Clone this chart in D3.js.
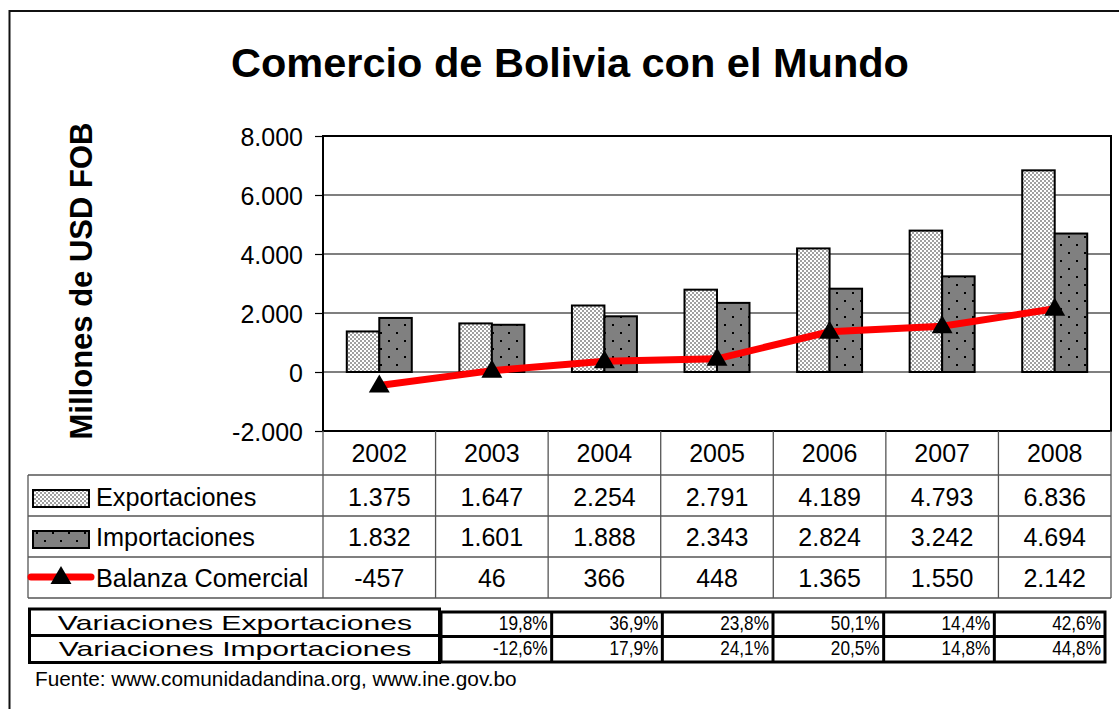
<!DOCTYPE html>
<html><head><meta charset="utf-8">
<script src="https://cdn.jsdelivr.net/npm/d3@7"></script>
<style>
html,body{margin:0;padding:0;background:#fff;}
svg{display:block;font-family:"Liberation Sans",Arial,sans-serif;}
</style></head>
<body>
<svg id="chart" width="1119" height="709"></svg>
<script>
const years = ["2002","2003","2004","2005","2006","2007","2008"];
const exportaciones = [1375,1647,2254,2791,4189,4793,6836];
const importaciones = [1832,1601,1888,2343,2824,3242,4694];
const balanza = [-457,46,366,448,1365,1550,2142];
const varExport = ["19,8%","36,9%","23,8%","50,1%","14,4%","42,6%"];
const varImport = ["-12,6%","17,9%","24,1%","20,5%","14,8%","44,8%"];
const yTicks = [-2000,0,2000,4000,6000,8000];
const seriesNames = ["Exportaciones","Importaciones","Balanza Comercial"];
const varLabels = ["Variaciones Exportaciones","Variaciones Importaciones"];
const titleText = "Comercio de Bolivia con el Mundo";
const yTitle = "Millones de USD FOB";
const sourceText = "Fuente: www.comunidadandina.org, www.ine.gov.bo";

const svg = d3.select("#chart");
const defs = svg.append("defs");
// checker pattern
const pc = defs.append("pattern").attr("id","checker").attr("patternUnits","userSpaceOnUse").attr("width",4).attr("height",4);
pc.append("rect").attr("width",4).attr("height",4).attr("fill","#fff");
pc.append("rect").attr("width",2).attr("height",2).attr("fill","#a0a0a0");
pc.append("rect").attr("x",2).attr("y",2).attr("width",2).attr("height",2).attr("fill","#a0a0a0");
// dotted pattern
const pd = defs.append("pattern").attr("id","dots").attr("patternUnits","userSpaceOnUse").attr("width",16).attr("height",16);
pd.append("rect").attr("width",16).attr("height",16).attr("fill","#808080");
pd.append("rect").attr("x",4).attr("y",4).attr("width",2).attr("height",2).attr("fill","#000");
pd.append("rect").attr("x",12).attr("y",12).attr("width",2).attr("height",2).attr("fill","#000");

const fmt = v => d3.format(",")(v).replace(/,/g,".").replace(/\u2212/g,"-");

// outer frame
svg.append("rect").attr("x",9.5).attr("y",11).attr("width",1200).attr("height",800)
  .attr("fill","none").attr("stroke","#111").attr("stroke-width",2);

// title
svg.append("text").attr("x",570).attr("y",77).attr("text-anchor","middle")
  .attr("font-size",41.5).attr("font-weight","bold").text(titleText);

const L = 323, R = 1111, T = 136, B = 431;
const x = d3.scaleBand().domain(years).range([L,R]).padding(0);
const y = d3.scaleLinear().domain([-2000,8000]).range([B,T]);
const x1 = d3.scaleBand().domain(["e","i"]).range([0,x.bandwidth()]).paddingInner(0).paddingOuter(0.732);

// gridlines
svg.append("g").selectAll("line").data(yTicks).join("line")
  .attr("x1",L).attr("x2",R).attr("y1",d=>y(d)).attr("y2",d=>y(d))
  .attr("stroke","#000").attr("stroke-width",1.2);

// y axis
const yAxis = d3.axisLeft(y).tickValues(yTicks).tickSize(8).tickPadding(12).tickFormat(fmt);
const ga = svg.append("g").attr("transform",`translate(${L},0)`).call(yAxis);
ga.select(".domain").remove();
ga.selectAll(".tick line").attr("stroke","#000").attr("stroke-width",1.2);
ga.selectAll(".tick text").attr("font-size",25).attr("fill","#000")
  .attr("font-family","Liberation Sans, Arial, sans-serif").attr("dy","0.36em");

// y title
svg.append("text").attr("transform",`translate(92,281) rotate(-90)`).attr("text-anchor","middle")
  .attr("font-size",31).attr("font-weight","bold").text(yTitle);

// bars
const gb = svg.append("g");
years.forEach((yr,i)=>{
  [["e",exportaciones[i],"url(#checker)"],["i",importaciones[i],"url(#dots)"]].forEach(([k,v,f])=>{
    gb.append("rect").attr("x",x(yr)+x1(k)).attr("width",x1.bandwidth())
      .attr("y",y(Math.max(0,v))).attr("height",Math.abs(y(v)-y(0)))
      .attr("fill",f).attr("stroke","#000").attr("stroke-width",2);
  });
});

// line
const cx = d => x(d)+x.bandwidth()/2;
svg.append("path").datum(years.map((yr,i)=>[cx(yr),y(balanza[i])]))
  .attr("d",d3.line()).attr("fill","none").attr("stroke","#ff0000").attr("stroke-width",7);
const tri = d3.symbol().type(d3.symbolTriangle).size(190);
svg.append("g").selectAll("path").data(years).join("path")
  .attr("d",tri).attr("transform",(d,i)=>`translate(${cx(d)},${y(balanza[i])+1})`).attr("fill","#000");

// plot border
svg.append("rect").attr("x",L).attr("y",T).attr("width",R-L).attr("height",B-T)
  .attr("fill","none").attr("stroke","#000").attr("stroke-width",2);

// data table
const tg = svg.append("g");
const tc = "#555";
tg.append("line").attr("x1",L).attr("x2",R).attr("y1",B).attr("y2",B).attr("stroke","#000").attr("stroke-width",2);
[475,516,557,598].forEach(yy=>{
  tg.append("line").attr("x1",28).attr("x2",R).attr("y1",yy).attr("y2",yy).attr("stroke",tc).attr("stroke-width",1.3);
});
years.forEach(yr=>{
  tg.append("line").attr("x1",x(yr)).attr("x2",x(yr)).attr("y1",B).attr("y2",598).attr("stroke",tc).attr("stroke-width",1.3);
});
tg.append("line").attr("x1",R).attr("x2",R).attr("y1",B).attr("y2",598).attr("stroke",tc).attr("stroke-width",1.3);
tg.append("line").attr("x1",28).attr("x2",28).attr("y1",475).attr("y2",598).attr("stroke",tc).attr("stroke-width",1.3);

tg.selectAll("text.yr").data(years).join("text").attr("class","yr")
  .attr("x",d=>cx(d)).attr("y",462).attr("text-anchor","middle").attr("font-size",25).text(d=>d);
const rows = [exportaciones,importaciones,balanza];
const baselines = [506,546,587];
rows.forEach((arr,r)=>{
  tg.selectAll(null).data(arr).join("text")
    .attr("x",(d,i)=>cx(years[i])).attr("y",baselines[r]).attr("text-anchor","middle")
    .attr("font-size",25).text(d=>fmt(d));
  tg.append("text").attr("x",96).attr("y",baselines[r]).attr("font-size",25.3).text(seriesNames[r]);
});
// legend keys
tg.append("rect").attr("x",33).attr("y",490).attr("width",56).attr("height",17)
  .attr("fill","url(#checker)").attr("stroke","#000").attr("stroke-width",2);
tg.append("rect").attr("x",33).attr("y",531).attr("width",56).attr("height",17)
  .attr("fill","url(#dots)").attr("stroke","#000").attr("stroke-width",2);
tg.append("line").attr("x1",31).attr("x2",91).attr("y1",577).attr("y2",577)
  .attr("stroke","#ff0000").attr("stroke-width",7).attr("stroke-linecap","round");
tg.append("path").attr("d",tri).attr("transform","translate(61,578)").attr("fill","#000");

// variations table
const vg = svg.append("g");
vg.append("rect").attr("x",29.5).attr("y",609).attr("width",410).attr("height",53.5)
  .attr("fill","none").attr("stroke","#000").attr("stroke-width",3);
vg.append("line").attr("x1",29.5).attr("x2",439.5).attr("y1",635.5).attr("y2",635.5).attr("stroke","#000").attr("stroke-width",3);
const vx = d3.scaleBand().domain(years.slice(1)).range([441,1105]);
vg.append("rect").attr("x",441).attr("y",612).attr("width",1105-441).attr("height",50)
  .attr("fill","none").attr("stroke","#000").attr("stroke-width",3);
vg.append("line").attr("x1",441).attr("x2",1105).attr("y1",636.5).attr("y2",636.5).attr("stroke","#000").attr("stroke-width",3);
years.slice(2).forEach(yr=>{
  vg.append("line").attr("x1",vx(yr)).attr("x2",vx(yr)).attr("y1",612).attr("y2",662).attr("stroke","#000").attr("stroke-width",3);
});
varLabels.forEach((t,i)=>{
  const te = vg.append("text").attr("x",235).attr("y",[630,656][i]).attr("text-anchor","middle")
    .attr("font-size",21).text(t);
  const w = te.node().getComputedTextLength();
  te.attr("textLength",357*(w/249)).attr("lengthAdjust","spacingAndGlyphs");
});
[varExport,varImport].forEach((arr,r)=>{
  arr.forEach((t,i)=>{
    const yr = years[i+1];
    const te = vg.append("text").attr("x",vx(yr)+vx.bandwidth()-4).attr("y",[630,655][r])
      .attr("text-anchor","end").attr("font-size",21).text(t);
    const w = te.node().getComputedTextLength();
    te.attr("textLength",w*0.82).attr("lengthAdjust","spacingAndGlyphs");
  });
});

// source
svg.append("text").attr("x",35).attr("y",686).attr("font-size",20.8).text(sourceText);
</script>
</body></html>
